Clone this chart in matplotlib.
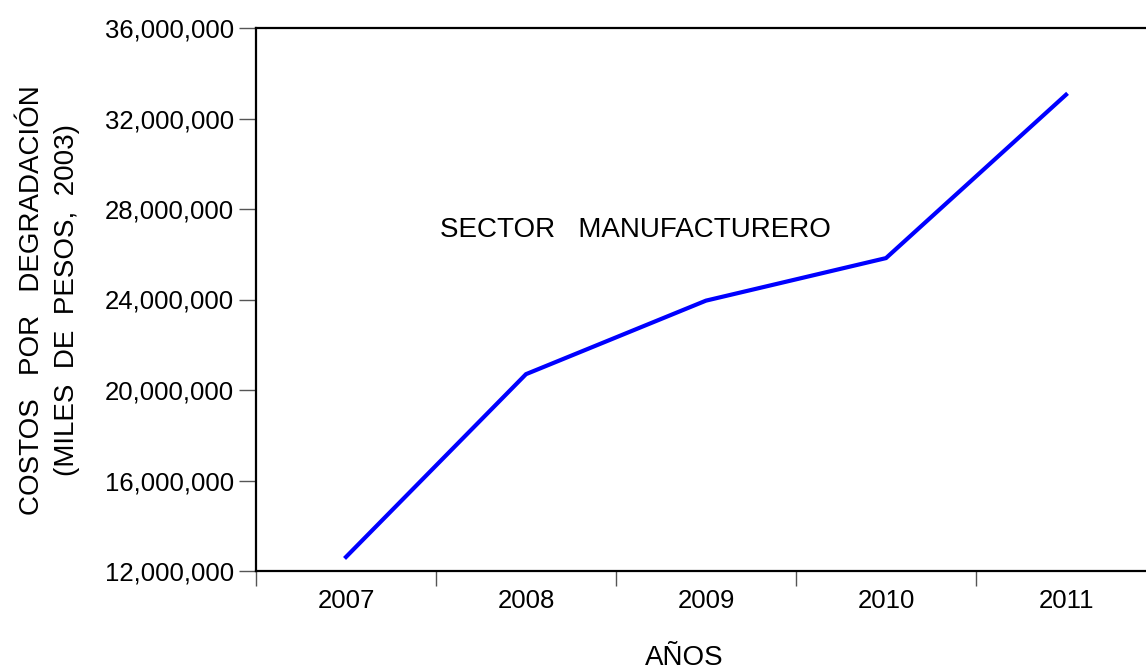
import matplotlib
matplotlib.use('Agg')
import matplotlib.pyplot as plt
from matplotlib.ticker import FuncFormatter, FixedLocator

# data
years = ['2007', '2008', '2009', '2010', '2011']
costos = [12620000, 20700000, 23950000, 25830000, 33050000]
y_ticks = [12000000, 16000000, 20000000, 24000000, 28000000, 32000000, 36000000]

plt.rcParams['font.family'] = ['Liberation Sans', 'DejaVu Sans']

fig = plt.figure(figsize=(11.46, 6.70), dpi=100)
ax = fig.add_axes([256 / 1146, 99 / 670, 900 / 1146, 543 / 670])

xpos = list(range(1, len(years) + 1))
ax.plot(xpos, costos, color='#0000ff', linewidth=3.0, solid_joinstyle='miter')

ax.set_xlim(0.5, len(years) + 0.5)
ax.set_ylim(y_ticks[0], y_ticks[-1])

# major ticks on category boundaries, labels at centers
ax.xaxis.set_major_locator(FixedLocator([x - 0.5 for x in xpos]))
ax.xaxis.set_minor_locator(FixedLocator(xpos))
ax.set_xticklabels([])
ax.set_xticklabels(years, minor=True)
ax.tick_params(axis='x', which='major', direction='out', length=11, width=1, color='#555555')
ax.tick_params(axis='x', which='minor', length=0, pad=13, labelsize=18.5)

ax.set_yticks(y_ticks)
ax.yaxis.set_major_formatter(FuncFormatter(lambda v, p: f'{int(v):,}'))
ax.tick_params(axis='y', direction='out', length=12, width=1, color='#555555', pad=4, labelsize=18.5)

ax.spines['right'].set_visible(False)
for s in ['left', 'top', 'bottom']:
    ax.spines[s].set_linewidth(1.6)

ax.text(2.61, 27070000, 'SECTOR   MANUFACTURERO', ha='center', va='center', fontsize=20)

fig.text(32 / 1146, 1 - 300 / 670, 'COSTOS   POR   DEGRADACIÓN', rotation=90,
         ha='center', va='center', fontsize=20)
fig.text(67 / 1146, 1 - 300 / 670, '(MILES  DE  PESOS,  2003)', rotation=90,
         ha='center', va='center', fontsize=20)
fig.text(684 / 1146, 1 - 658 / 670, 'AÑOS', ha='center', va='center', fontsize=20)

fig.savefig('out.png', dpi=100)
